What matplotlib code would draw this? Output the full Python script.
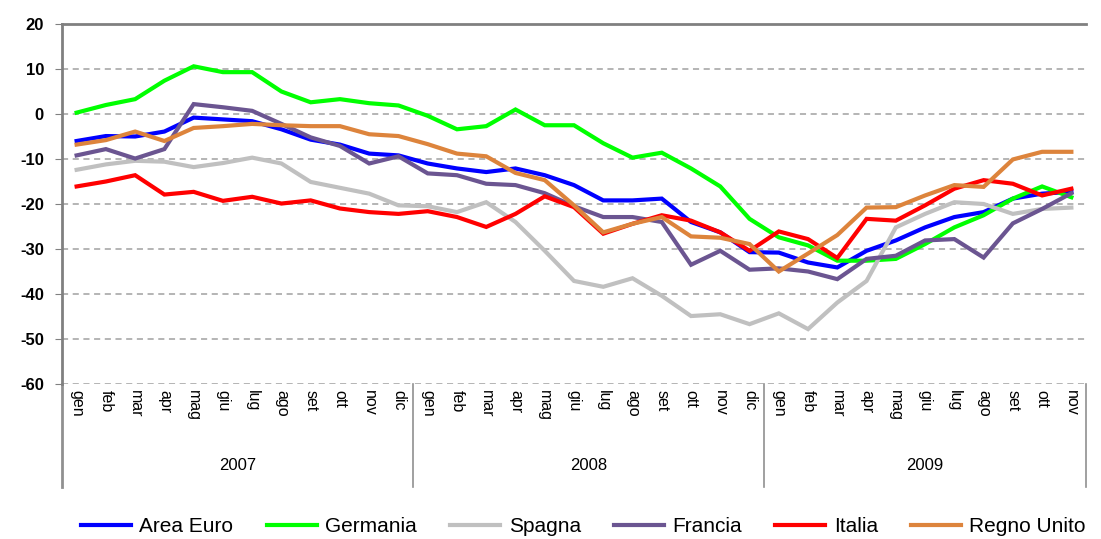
import numpy as np
import matplotlib
matplotlib.use("Agg")
import matplotlib.pyplot as plt
import matplotlib.transforms as mtransforms

months_07 = ["gen", "feb", "mar", "apr", "mag", "giu", "lug", "ago", "set", "ott", "nov", "dic"]
months_09 = months_07[:11]
month_labels = months_07 + months_07 + months_09
years = ["2007", "2008", "2009"]
year_lengths = [12, 12, 11]

area_euro = [-6.0, -4.9, -5.0, -3.9, -0.8, -1.2, -1.6, -3.4, -5.7, -6.8, -8.8, -9.2,
             -11.0, -12.1, -12.9, -12.1, -13.6, -15.8, -19.2, -19.2, -18.8, -24.0, -26.3, -30.7,
             -30.8, -33.0, -34.1, -30.4, -28.1, -25.2, -22.9, -21.8, -18.8, -17.7, -17.3]
germania = [0.3, 2.0, 3.3, 7.4, 10.6, 9.3, 9.3, 5.0, 2.6, 3.3, 2.4, 1.9,
            -0.4, -3.4, -2.7, 1.0, -2.5, -2.5, -6.5, -9.7, -8.6, -12.1, -16.1, -23.3,
            -27.4, -29.2, -32.6, -32.6, -32.2, -28.9, -25.2, -22.5, -18.8, -16.1, -18.5]
spagna = [-12.4, -11.2, -10.4, -10.6, -11.8, -10.9, -9.7, -11.0, -15.1, -16.4, -17.7, -20.3,
          -20.5, -21.8, -19.6, -24.0, -30.4, -37.1, -38.4, -36.5, -40.4, -44.9, -44.5, -46.7,
          -44.3, -47.8, -41.9, -37.1, -25.2, -22.2, -19.6, -20.0, -22.2, -21.1, -20.8]
francia = [-9.2, -7.8, -9.9, -7.8, 2.2, 1.5, 0.7, -2.2, -5.2, -7.1, -11.0, -9.4,
           -13.2, -13.6, -15.5, -15.8, -17.6, -20.5, -22.9, -22.9, -24.0, -33.5, -30.4, -34.6,
           -34.3, -35.0, -36.7, -32.2, -31.5, -28.1, -27.8, -31.9, -24.3, -21.1, -17.6]
italia = [-16.1, -15.0, -13.6, -17.9, -17.3, -19.3, -18.4, -19.9, -19.2, -21.0, -21.8, -22.2,
          -21.6, -22.9, -25.1, -22.2, -18.3, -20.7, -26.6, -24.4, -22.5, -23.7, -26.3, -30.4,
          -26.1, -27.8, -32.0, -23.3, -23.7, -20.3, -16.6, -14.7, -15.5, -18.1, -16.6]
regno_unito = [-6.8, -5.8, -3.9, -6.0, -3.1, -2.7, -2.2, -2.5, -2.7, -2.7, -4.5, -4.9,
               -6.7, -8.8, -9.4, -13.1, -14.7, -20.3, -26.3, -24.4, -22.9, -27.2, -27.5, -28.9,
               -35.0, -31.0, -26.9, -20.8, -20.7, -18.1, -15.8, -16.2, -10.1, -8.4, -8.4]

series = [
    ("Area Euro", area_euro, "#0000FF"),
    ("Germania", germania, "#00FF00"),
    ("Spagna", spagna, "#C0C0C0"),
    ("Francia", francia, "#6B5591"),
    ("Italia", italia, "#FF0000"),
    ("Regno Unito", regno_unito, "#DD843C"),
]

plt.rcParams["font.family"] = ["Liberation Sans", "DejaVu Sans"]
plt.rcParams["axes.unicode_minus"] = False

fig = plt.figure(figsize=(11.01, 5.39), dpi=100)
ax = fig.add_axes([62 / 1101, 1 - 384 / 539, (1086 - 62) / 1101, 360 / 539])

x = np.arange(len(month_labels))
for name, vals, col in series:
    ax.plot(x, vals, color=col, lw=3, label=name, solid_joinstyle="miter")

ax.set_xlim(-0.5, len(month_labels) - 0.5)
ax.set_ylim(-60, 20)
ax.set_yticks(np.arange(-60, 21, 10))
ax.tick_params(axis="y", labelsize=12, direction="out", length=5, color="#808080", pad=8)
for lbl in ax.get_yticklabels():
    lbl.set_fontweight("bold")
ax.grid(axis="y", color="#A0A0A0", linestyle=(0, (4, 3)), lw=1.1)
ax.set_axisbelow(True)

ax.set_xticks(x)
ax.set_xticklabels(month_labels, rotation=270, fontsize=11.5, va="top", ha="center")
ax.tick_params(axis="x", length=0, pad=4)

for s in ["right", "bottom"]:
    ax.spines[s].set_visible(False)
ax.spines["left"].set_color("#808080")
ax.spines["left"].set_linewidth(2)
ax.spines["top"].set_color("#808080")
ax.spines["top"].set_linewidth(2)

# year separators and labels below the axis
trans = mtransforms.blended_transform_factory(ax.transData, ax.transAxes)
bounds = np.concatenate([[0], np.cumsum(year_lengths)]) - 0.5
for b in bounds:
    lw = 2 if b == bounds[0] else 1.2
    ax.plot([b, b], [0, -0.286], transform=trans, color="#909090", lw=lw, clip_on=False)
for i, yr in enumerate(years):
    ax.text((bounds[i] + bounds[i + 1]) / 2, -0.225, yr, transform=trans,
            ha="center", va="center", fontsize=12)

fig.legend(loc="center", bbox_to_anchor=(0.53, 12 / 539), ncol=6, frameon=False,
           fontsize=15, handlelength=2.4, columnspacing=1.6, handletextpad=0.4)

fig.savefig("out.png", dpi=100)
